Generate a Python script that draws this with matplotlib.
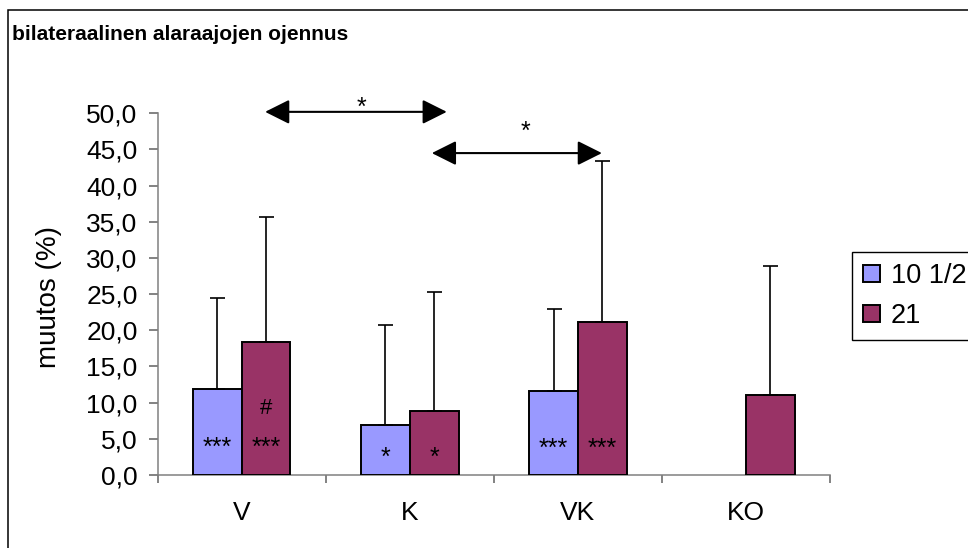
import matplotlib
matplotlib.use("Agg")
import matplotlib.pyplot as plt
from matplotlib.patches import Rectangle, ArrowStyle
from matplotlib.ticker import FuncFormatter, MultipleLocator
import numpy as np

plt.rcParams['font.family'] = ['Liberation Sans', 'DejaVu Sans']

# Data
categories = ["V", "K", "VK", "KO"]
series_names = ["10 1/2", "21"]
mean_105 = [11.9, 6.9, 11.6, np.nan]
sd_105 = [12.6, 13.9, 11.3, np.nan]
mean_21 = [18.4, 8.9, 21.1, 11.1]
sd_21 = [17.2, 16.4, 22.3, 17.8]
marks_105 = ["***", "*", "***", ""]
marks_21 = ["***", "*", "***", ""]
colors = ["#9999FF", "#993366"]

W, H = 968, 548
fig = plt.figure(figsize=(W / 100, H / 100), dpi=100)

# outer chart frame
fig.patches.append(Rectangle((8 / W, -0.1), 1.2, 1 - 10 / H + 0.1,
                             transform=fig.transFigure, fill=False,
                             edgecolor="black", lw=1.1, zorder=0))

ax = fig.add_axes([157.7 / W, 1 - 475 / H, (830 - 157.7) / W, (475 - 113.3) / H])

x = np.arange(len(categories))
bw = 0.29
err_kw = dict(ecolor="black", elinewidth=1.2, capsize=5.4, capthick=1.2)
m105 = np.array(mean_105, dtype=float)
m21 = np.array(mean_21, dtype=float)
valid = ~np.isnan(m105)
ax.bar(x[valid] - bw / 2, m105[valid], bw, color=colors[0], edgecolor="black",
       lw=1.4, label=series_names[0], zorder=3,
       yerr=[np.zeros(valid.sum()), np.array(sd_105)[valid]], error_kw=err_kw)
ax.bar(x + bw / 2, m21, bw, color=colors[1], edgecolor="black",
       lw=1.4, label=series_names[1], zorder=3,
       yerr=[np.zeros(len(x)), sd_21], error_kw=err_kw)

# significance marks inside bars
star_fs = 18
star_base = [2.8, 1.4, 2.7, 0]
for i in range(len(categories)):
    if marks_105[i]:
        ax.text(x[i] - bw / 2, star_base[i], marks_105[i], ha="center",
                va="baseline", fontsize=star_fs, zorder=5)
    if marks_21[i]:
        ax.text(x[i] + bw / 2, star_base[i], marks_21[i], ha="center",
                va="baseline", fontsize=star_fs, zorder=5)
ax.text(x[0] + bw / 2, 8.5, "#", ha="center", va="baseline", fontsize=16, zorder=5)

# comparison arrows between groups
style = ArrowStyle("<|-|>", head_length=0.4, head_width=0.2)
for (x0, x1, y, sx, sy) in [(0.139, 1.220, 50.2, 0.711, 49.8),
                            (1.131, 2.143, 44.5, 1.688, 46.4)]:
    ax.annotate("", xy=(x1, y), xytext=(x0, y), xycoords="data",
                annotation_clip=False,
                arrowprops=dict(arrowstyle=style, mutation_scale=37.5,
                                color="black", lw=1.5, shrinkA=0, shrinkB=0))
    ax.text(sx, sy, "*", ha="center", va="baseline", fontsize=star_fs, clip_on=False)

ax.set_xlim(-0.5, len(categories) - 0.5)
ax.set_ylim(0, 50)
ax.yaxis.set_major_locator(MultipleLocator(5))
ax.yaxis.set_major_formatter(FuncFormatter(lambda v, p: f"{v:.1f}".replace(".", ",")))
ax.set_xticks(x)
ax.set_xticklabels(categories)
ax.set_xticks(np.arange(-0.5, len(categories)), minor=True)
ax.tick_params(axis="x", which="major", length=0, pad=19, labelsize=19)
ax.tick_params(axis="x", which="minor", length=6, width=1.1, color="#606060", direction="out")
ax.tick_params(axis="y", length=6.5, width=1.1, color="#606060", pad=8, labelsize=19, direction="out")
for s in ["top", "right"]:
    ax.spines[s].set_visible(False)
for s in ["left", "bottom"]:
    ax.spines[s].set_color("#808080")
    ax.spines[s].set_linewidth(1.1)
ax.patch.set_alpha(0)

fig.text(49 / W, 1 - 297 / H, "muutos (%)", rotation=90, ha="center", va="center", fontsize=20)
fig.text(12 / W, 1 - 35 / H, "bilateraalinen alaraajojen ojennus", ha="left",
         va="center", fontsize=15, fontweight="bold")

fig.legend(loc="upper left", bbox_to_anchor=(852 / W, 1 - 252 / H), fontsize=19.5,
           frameon=True, fancybox=False, edgecolor="black", framealpha=1,
           handlelength=0.6, handleheight=0.6, handletextpad=0.42,
           borderpad=0.42, labelspacing=0.5, borderaxespad=0)

fig.savefig("out.png", dpi=100)
